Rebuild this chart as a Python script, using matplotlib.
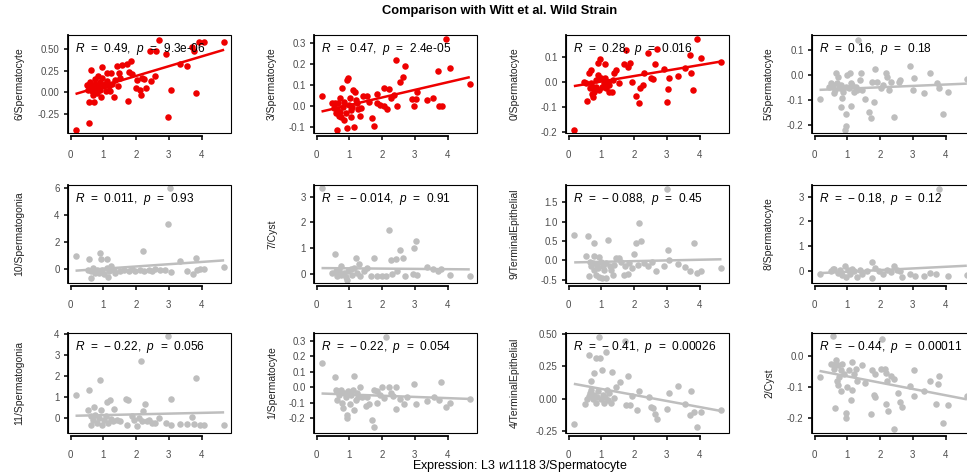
import matplotlib.pyplot as plt
from matplotlib.patches import Rectangle

plt.rcParams['font.family'] = 'Liberation Sans'
plt.rcParams['mathtext.fontset'] = 'custom'
plt.rcParams['mathtext.rm'] = 'Liberation Sans'
plt.rcParams['mathtext.it'] = 'Liberation Sans:italic'
plt.rcParams['axes.unicode_minus'] = False

# panel names, stats and significance colour
names = ['6/Spermatocyte', '3/Spermatocyte', '0/Spermatocyte', '5/Spermatocyte',
         '10/Spermatogonia', '7/Cyst', '9/TerminalEpithelial', '8/Spermatocyte',
         '11/Spermatogonia', '1/Spermatocyte', '4/TerminalEpithelial', '2/Cyst']
r_vals = ['0.49', '0.47', '0.28', '0.16', '0.011', '\u2212 0.014', '\u2212 0.088', '\u2212 0.18',
          '\u2212 0.22', '\u2212 0.22', '\u2212 0.41', '\u2212 0.44']
p_vals = ['9.3e-06', '2.4e-05', '0.016', '0.18', '0.93', '0.91', '0.45', '0.12',
          '0.056', '0.054', '0.00026', '0.00011']
colors = ['#EE0000', '#EE0000', '#EE0000', '#BEBEBE'] + ['#BEBEBE'] * 8

# scatter values
x_6sp = [0.15, 0.56, 0.61, 0.56, 0.71, 0.53, 0.96, 1.22, 1.47, 1.42, 1.57, 1.71, 1.86, 1.32, 1.75,
         1.78, 1.88, 2.03, 2.18, 2.25, 2.00, 2.13, 2.15, 2.30, 2.46, 2.57, 2.44, 2.62, 2.69, 2.91,
         2.99, 3.07, 3.35, 3.55, 3.70, 3.76, 3.83, 3.93, 4.06, 4.69,
         0.49, 0.53, 0.59, 0.63, 0.66, 0.69, 0.73, 0.76, 0.79, 0.81, 0.83, 0.86, 0.89, 0.91, 0.93,
         0.96, 1.02, 1.04, 1.07, 1.10, 1.12, 1.17, 1.20, 1.27, 1.37, 1.44, 1.52]
y_6sp = [-0.43, -0.36, 0.26, -0.11, -0.11, 0.08, 0.29, 0.22, 0.22, 0.30, 0.31, 0.33, 0.36, -0.06, -0.10,
         0.23, 0.21, 0.14, 0.16, 0.15, 0.05, 0.03, -0.03, 0.05, 0.13, 0.19, 0.48, 0.47, 0.60, 0.44,
         -0.29, 0.03, 0.33, 0.30, 0.52, 0.47, -0.01, 0.58, 0.58, 0.58,
         0.08, 0.03, 0.12, 0.07, 0.01, -0.03, 0.10, 0.15, 0.05, -0.01, 0.19, 0.08, 0.12, 0.03, -0.05,
         0.16, 0.07, 0.10, 0.01, 0.22, 0.13, 0.07, 0.01, 0.10, 0.14, 0.07, 0.16]

x_3sp = [0.15, 0.61, 0.56, 0.63, 0.68, 0.71, 0.78, 0.83, 0.92, 0.96, 0.94, 1.14, 1.12, 1.17, 1.04,
         1.19, 1.32, 1.42, 1.53, 1.70, 1.75, 1.85, 1.83, 2.05, 2.07, 2.16, 2.21, 2.26, 2.36, 2.41,
         2.46, 2.56, 2.63, 2.69, 2.92, 2.97, 3.07, 3.05, 3.36, 3.55, 3.71, 3.75, 3.84, 3.94, 4.07, 4.68,
         0.48, 0.53, 0.58, 0.65, 0.71, 0.75, 0.81, 0.85, 0.89, 0.99, 1.02, 1.06, 1.09, 1.22, 1.26,
         1.36, 1.60, 1.95]
y_3sp = [0.048, -0.115, 0.016, -0.016, -0.050, 0.040, 0.085, -0.067, 0.125, 0.133, -0.107, -0.100,
         0.074, 0.069, -0.020, 0.030, -0.050, 0.048, 0.048, -0.060, -0.096, 0.058, 0.013, 0.085, 0.000,
         -0.016, 0.080, 0.040, 0.053, 0.218, 0.000, 0.114, 0.138, 0.192, 0.032, 0.000, 0.069, 0.032,
         0.026, 0.037, 0.165, 0.000, 0.000, 0.320, 0.184, 0.106,
         0.013, -0.011, -0.035, 0.013, -0.027, -0.051, -0.006, 0.021, -0.035, 0.005, 0.037, -0.051,
         -0.003, 0.013, -0.016, -0.011, 0.021, 0.005]

x_0sp = [0.16, 0.57, 0.69, 0.74, 0.91, 0.96, 1.12, 1.14, 1.22, 1.33, 1.38, 1.45, 1.53, 1.68, 1.75,
         1.82, 1.87, 1.95, 2.05, 2.16, 2.19, 2.28, 2.31, 2.44, 2.51, 2.58, 2.63, 2.69, 2.91, 3.02,
         3.05, 3.07, 3.35, 3.55, 3.70, 3.75, 3.81, 3.93, 4.03, 4.67,
         0.47, 0.54, 0.61, 0.79, 0.89, 0.84, 0.94, 0.99, 1.07, 1.11, 1.19, 1.24, 1.35, 0.84, 0.67,
         0.74, 0.64, 0.71, 1.01]
y_0sp = [-0.192, -0.076, 0.048, -0.059, 0.077, 0.090, 0.070, -0.025, -0.039, -0.039, 0.035, 0.048,
         -0.005, 0.070, 0.128, 0.061, 0.077, 0.000, -0.056, -0.085, -0.025, -0.012, 0.035, 0.117,
         0.015, 0.011, 0.072, 0.130, 0.050, -0.079, -0.029, 0.015, 0.024, 0.055, 0.108, 0.035,
         -0.032, 0.171, 0.095, 0.081,
         0.001, -0.005, 0.035, -0.039, 0.028, 0.008, -0.032, 0.015, -0.005, 0.015, 0.001, -0.012,
         0.008, -0.019, -0.005, -0.019, -0.025, -0.048, -0.019]

x_5sp = [0.15, 0.50, 0.58, 0.65, 0.70, 0.75, 0.80, 0.85, 0.92, 0.95, 0.97, 1.00, 1.08, 1.12, 1.15,
         1.20, 1.33, 1.39, 1.43, 1.53, 1.66, 1.73, 1.76, 1.81, 1.84, 1.91, 2.02, 2.10, 2.17, 2.22,
         2.27, 2.34, 2.42, 2.58, 2.62, 2.91, 3.03, 3.00, 3.33, 3.53, 3.74, 3.79, 3.92, 4.06, 4.65,
         0.45, 0.55, 0.62, 0.68, 0.78, 0.82, 0.88, 0.95, 1.05, 1.10, 1.26, 1.31, 1.46]
y_5sp = [-0.097, -0.031, -0.073, 0.007, -0.007, -0.047, -0.127, -0.093, -0.220, -0.204, -0.156, 0.000,
         0.007, -0.124, -0.040, -0.067, 0.140, -0.020, 0.007, -0.095, -0.148, -0.172, -0.027, -0.107,
         0.023, -0.027, -0.053, -0.040, 0.007, -0.007, -0.060, -0.027, -0.167, -0.027, -0.020, 0.036,
         -0.013, -0.060, -0.073, 0.009, -0.031, -0.053, -0.156, -0.067, -0.017,
         -0.047, -0.040, -0.060, -0.033, -0.053, -0.040, -0.067, -0.047, -0.053, -0.033, -0.047,
         -0.060, -0.060]

x_10sg = [0.15, 0.56, 0.61, 0.91, 0.94, 1.12, 1.14, 2.20, 2.99, 3.05, 3.35, 3.83, 4.69, 2.89, 3.07,
          3.55, 3.73, 3.86, 3.94, 4.08,
          0.53, 0.61, 0.69, 0.76, 0.81, 0.86, 0.96, 1.02, 1.10, 1.17, 1.22, 1.32, 1.37, 1.52, 1.64,
          1.78, 1.88, 1.98, 2.11, 2.23, 2.39, 2.49, 2.59, 2.72]
y_10sg = [0.97, 0.72, -0.69, 1.20, 0.72, 0.72, -0.62, 1.29, 3.35, 6.00, 0.55, 0.79, 0.12, -0.07, -0.25,
          -0.20, -0.37, -0.12, 0.00, 0.00,
          -0.07, -0.20, 0.05, -0.32, -0.07, -0.32, -0.07, -0.37, 0.05, -0.20, 0.17, -0.07, -0.32,
          -0.20, -0.07, -0.20, -0.02, -0.20, -0.07, -0.15, -0.07, -0.20, -0.02, -0.07]

x_7cy = [0.15, 0.56, 1.19, 1.75, 2.21, 2.26, 2.44, 2.56, 2.63, 2.69, 2.99, 3.05, 2.94, 3.07, 3.36,
         3.55, 3.71, 3.81, 4.07, 4.68,
         0.48, 0.58, 0.63, 0.68, 0.73, 0.76, 0.83, 0.89, 0.94, 0.96, 1.04, 1.09, 1.14, 1.22, 1.29,
         1.34, 1.44, 1.55, 1.67, 1.85, 2.00, 2.11, 2.31, 2.46]
y_7cy = [3.32, 0.78, 0.61, 0.61, 1.71, 0.54, 0.57, 0.91, 0.63, -0.10, 1.00, 1.29, 0.00, -0.04, 0.26,
         0.18, 0.09, 0.18, -0.04, -0.10,
         0.03, 0.09, -0.10, 0.16, -0.04, 0.31, 0.03, -0.13, -0.23, 0.09, 0.18, -0.04, 0.22, 0.03,
         0.39, -0.08, 0.09, 0.22, -0.08, -0.10, -0.08, -0.08, 0.00, 0.09]

x_9te = [0.17, 0.59, 0.62, 0.77, 0.54, 0.84, 0.94, 1.01, 1.14, 1.19, 1.35, 1.45, 1.55, 1.70, 1.80,
         2.00, 2.05, 2.16, 2.21, 2.68, 2.90, 3.00, 3.05, 3.07, 3.34, 3.57, 3.72, 3.83, 3.93, 4.05, 4.67,
         0.64, 0.69, 0.74, 0.79, 0.87, 0.91, 0.99, 1.04, 1.09, 1.14, 1.25, 1.30, 1.40, 1.60, 1.72,
         1.85, 1.95, 2.11, 2.31, 2.41, 2.56, 0.79, 0.94]
y_9te = [0.66, 0.62, -0.39, 0.46, 0.12, -0.37, -0.43, -0.45, -0.45, 0.53, -0.37, 0.06, 0.06, -0.37,
         -0.34, 0.17, 0.44, 0.97, 0.49, -0.26, -0.14, 1.85, 0.27, 0.00, -0.09, -0.17, -0.28, 0.44,
         -0.31, -0.28, -0.20,
         -0.03, -0.15, -0.07, -0.24, -0.11, -0.20, -0.05, -0.15, -0.24, -0.07, -0.15, -0.24, -0.11,
         -0.05, -0.14, -0.07, -0.20, -0.11, -0.07, -0.15, -0.03, 0.12, 0.09]

x_8sp = [0.15, 0.60, 0.92, 0.95, 1.15, 1.31, 1.74, 1.76, 1.86, 2.42, 2.52, 2.67, 2.91, 3.06, 3.33,
         3.53, 3.72, 3.81, 4.06, 4.65,
         0.50, 0.55, 0.70, 0.78, 0.85, 1.02, 1.08, 1.21, 1.39, 1.46, 1.61, 1.96, 2.10, 2.22, 2.32, 2.60]
y_8sp = [-0.13, 0.07, 0.17, -0.26, 0.07, -0.26, 0.34, -0.30, 0.11, 0.17, 0.04, -0.26, -0.12, -0.20,
         -0.23, -0.09, -0.12, 3.30, -0.23, -0.16,
         -0.03, 0.07, -0.09, 0.04, -0.16, 0.01, -0.12, -0.03, 0.04, -0.12, -0.03, -0.03, -0.12, 0.04,
         -0.07, -0.03]

x_11sg = [0.15, 0.56, 0.53, 0.61, 0.71, 0.91, 0.94, 1.10, 1.20, 1.34, 1.68, 1.76, 1.73, 2.03, 2.15,
          2.20, 2.26, 2.34, 2.59, 2.69, 2.91, 2.99, 3.07, 3.07, 3.35, 3.55, 3.71, 3.83, 3.78, 3.94,
          4.08, 4.69,
          0.61, 0.69, 0.76, 0.81, 0.86, 0.96, 1.02, 1.07, 1.14, 1.22, 1.30, 1.42, 1.50, 1.88, 1.93,
          2.08, 2.18, 2.39, 2.49]
y_11sg = [1.09, 1.33, 0.38, -0.30, 0.52, 1.83, 0.41, 0.77, 0.89, 0.46, 0.92, 0.89, -0.30, -0.38, 2.70,
          0.33, 0.70, -0.14, -0.22, 0.02, -0.22, 3.89, 0.92, -0.30, -0.27, -0.27, 0.06, 1.91, -0.25,
          -0.30, -0.32, -0.30,
          0.09, -0.06, 0.17, -0.22, 0.02, -0.30, -0.06, 0.13, -0.22, -0.03, -0.14, -0.06, -0.14, 0.09,
          -0.06, 0.02, -0.14, -0.06, -0.22]

x_1sp = [0.15, 0.56, 0.58, 0.63, 0.78, 0.81, 0.92, 0.94, 1.01, 1.14, 1.14, 1.19, 1.32, 1.50, 1.60,
         1.68, 1.75, 1.75, 1.83, 1.85, 2.00, 2.13, 2.21, 2.26, 2.44, 2.44, 2.67, 2.99, 3.05, 3.36,
         3.58, 3.73, 3.81, 3.94, 4.07, 4.68,
         0.61, 0.68, 0.73, 0.83, 0.89, 0.96, 1.06, 1.12, 1.24, 1.26, 1.39, 1.55, 1.95, 2.05, 2.34,
         2.56, 2.77]
y_1sp = [0.157, 0.064, -0.015, -0.080, -0.100, -0.133, -0.176, -0.197, -0.110, 0.070, -0.148, -0.080,
         0.000, -0.118, -0.110, -0.208, -0.255, -0.015, -0.100, -0.026, 0.000, 0.324, 0.000, -0.036,
         0.000, -0.140, -0.110, 0.024, -0.105, -0.090, -0.062, -0.084, 0.032, -0.127, -0.100, -0.075,
         -0.026, -0.047, -0.019, -0.036, -0.062, -0.026, -0.047, -0.015, -0.036, -0.062, -0.062,
         -0.062, -0.047, -0.069, -0.054, -0.075, -0.062]

x_4te = [0.16, 0.57, 0.61, 0.67, 0.79, 0.84, 0.94, 0.97, 1.01, 1.14, 1.18, 1.34, 1.45, 1.58, 1.72,
         1.80, 1.75, 1.87, 1.95, 2.10, 2.15, 2.46, 2.51, 2.59, 2.63, 2.69, 3.01, 3.06, 3.34, 3.55,
         3.72, 3.75, 3.82, 3.92, 4.05, 4.66,
         0.64, 0.69, 0.74, 0.77, 0.84, 0.87, 0.91, 0.99, 1.04, 1.07, 1.11, 1.19, 1.24, 1.30, 1.40,
         0.49, 0.61]
y_4te = [-0.196, 0.000, 0.335, 0.134, 0.200, 0.314, 0.477, 0.314, 0.224, 0.358, 0.070, 0.210, 0.088,
         0.126, 0.443, 0.173, -0.046, -0.046, 0.018, -0.085, 0.057, 0.013, -0.064, -0.072, -0.116,
         -0.157, -0.080, 0.044, 0.100, -0.041, -0.124, 0.062, -0.106, -0.219, -0.106, -0.085,
         0.044, 0.070, 0.000, 0.031, -0.034, 0.013, 0.057, 0.000, 0.031, -0.034, 0.013, -0.008,
         0.044, -0.034, 0.005, -0.039, 0.018]

x_2cy = [0.15, 0.56, 0.62, 0.72, 0.82, 0.95, 0.97, 1.00, 1.13, 1.15, 1.12, 1.26, 1.31, 1.46, 1.54,
         1.71, 1.76, 1.81, 1.83, 1.86, 2.02, 2.05, 2.14, 2.17, 2.17, 2.22, 2.25, 2.32, 2.42, 2.44,
         2.56, 2.62, 2.67, 2.91, 3.03, 3.05, 3.33, 3.53, 3.72, 3.76, 3.81, 3.92, 4.06, 4.65,
         0.50, 0.58, 0.65, 0.60, 0.70, 0.80, 0.75, 0.68, 0.85, 0.90, 1.05, 1.21]
y_2cy = [-0.068, 0.064, -0.169, -0.092, -0.112, -0.184, -0.200, -0.099, -0.019, -0.110, -0.143,
         -0.041, -0.079, -0.030, -0.088, -0.189, -0.044, -0.125, -0.132, -0.057, -0.041, 0.055,
         -0.041, -0.055, -0.154, -0.081, -0.178, -0.063, -0.235, -0.074, -0.118, -0.147, -0.165,
         -0.096, -0.046, -0.129, -0.112, -0.079, -0.156, -0.090, -0.063, -0.216, -0.158, -0.129,
         -0.024, -0.030, -0.013, -0.041, -0.030, -0.046, -0.068, -0.079, -0.024, -0.057, -0.046,
         -0.057]

xs = [x_6sp, x_3sp, x_0sp, x_5sp, x_10sg, x_7cy, x_9te, x_8sp, x_11sg, x_1sp, x_4te, x_2cy]
ys = [y_6sp, y_3sp, y_0sp, y_5sp, y_10sg, y_7cy, y_9te, y_8sp, y_11sg, y_1sp, y_4te, y_2cy]

# fitted line ends (at min x and max x)
fit_y0 = [-0.02, -0.027, -0.017, -0.06, -0.15, 0.22, -0.05, -0.10, 0.12, -0.04, 0.115, -0.048]
fit_y1 = [0.49, 0.138, 0.082, -0.035, 0.62, 0.17, 0.03, 0.20, 0.28, -0.075, -0.095, -0.14]

ylims = [(-0.47, 0.66), (-0.13, 0.34), (-0.205, 0.188), (-0.233, 0.16),
         (-1.07, 6.25), (-0.36, 3.45), (-0.58, 1.94), (-0.5, 3.47),
         (-0.7, 4.05), (-0.294, 0.349), (-0.265, 0.508), (-0.249, 0.075)]
yticks = [[-0.25, 0, 0.25, 0.5], [-0.1, 0, 0.1, 0.2, 0.3], [-0.2, -0.1, 0, 0.1], [-0.2, -0.1, 0, 0.1],
          [0, 2, 4, 6], [0, 1, 2, 3], [-0.5, 0, 0.5, 1.0, 1.5], [0, 1, 2, 3],
          [0, 1, 2, 3, 4], [-0.2, -0.1, 0, 0.1, 0.2, 0.3], [-0.25, 0, 0.25, 0.5], [-0.2, -0.1, 0]]
yticklabels = [['-0.25', '0.00', '0.25', '0.50'], ['-0.1', '0.0', '0.1', '0.2', '0.3'],
               ['-0.2', '-0.1', '0.0', '0.1'], ['-0.2', '-0.1', '0.0', '0.1'],
               ['0', '2', '4', '6'], ['0', '1', '2', '3'], ['-0.5', '0.0', '0.5', '1.0', '1.5'],
               ['0', '1', '2', '3'], ['0', '1', '2', '3', '4'],
               ['-0.2', '-0.1', '0.0', '0.1', '0.2', '0.3'], ['-0.25', '0.00', '0.25', '0.50'],
               ['-0.2', '-0.1', '0.0']]

W, H = 967, 476
fig = plt.figure(figsize=(W / 100, H / 100), dpi=100)
lefts = [68, 314, 566, 812]
tops = [35, 185, 333]
heights = [98, 98, 100]
lab_x = [19, 272, 515, 769]
pw = 163

for i in range(12):
    r, c = divmod(i, 4)
    ax = fig.add_axes([lefts[c] / W, 1 - (tops[r] + heights[r]) / H, pw / W, heights[r] / H])
    ax.scatter(xs[i], ys[i], s=22, color=colors[i], linewidths=0, zorder=2)
    ax.plot([min(xs[i]), max(xs[i])], [fit_y0[i], fit_y1[i]], color=colors[i], lw=1.8,
            solid_capstyle='butt', zorder=3)
    ax.set_xlim(-0.08, 4.9)
    ax.set_ylim(*ylims[i])
    ax.set_xticks([0, 1, 2, 3, 4])
    ax.set_yticks(yticks[i])
    ax.set_yticklabels(yticklabels[i])
    for s in ['top', 'right']:
        ax.spines[s].set_visible(False)
    ax.spines['bottom'].set_position(('outward', 2))
    ax.spines['bottom'].set_bounds(0, 4)
    ax.spines['bottom'].set_linewidth(1.3)
    ax.spines['left'].set_linewidth(1.3)
    ax.add_patch(Rectangle((0, 0), 1, 1, transform=ax.transAxes, fill=False, lw=0.8,
                           ec='black', zorder=5, clip_on=False))
    ax.tick_params(length=3, width=1.1, labelsize=7, labelcolor='#4D4D4D')
    ax.tick_params(axis='x', pad=7)
    ax.tick_params(axis='y', pad=3)
    ax.set_ylabel(names[i], fontsize=7.5, color='#222222')
    ax.yaxis.label.set_va('center')
    ax.yaxis.set_label_coords((lab_x[c] - lefts[c]) / pw, 0.5)
    ax.text(0.04, 0.86, f"$R$  =  {r_vals[i]},  $p$  =  {p_vals[i]}", transform=ax.transAxes,
            fontsize=8.6, ha='left', va='center', zorder=6)

fig.text(500 / W, 1 - 11 / H, 'Comparison with Witt et al. Wild Strain', fontsize=9.3,
         fontweight='bold', ha='center', va='center')
fig.text(520 / W, 1 - 466 / H, r'Expression: L3 $\mathit{w1118}$ 3/Spermatocyte', fontsize=9,
         ha='center', va='center')

plt.savefig('out.png', dpi=100)
